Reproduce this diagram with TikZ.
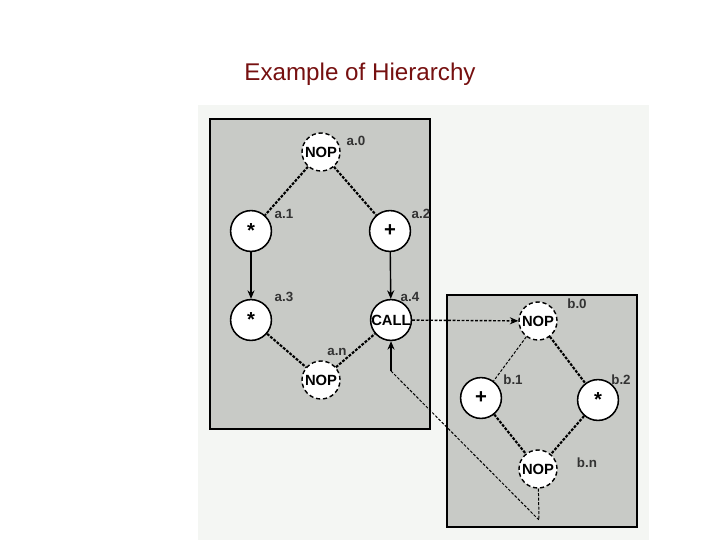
\documentclass[tikz,border=0pt]{standalone}
\usepackage{fontspec}
\setmainfont{Liberation Sans}
\usepackage{xcolor}
\usetikzlibrary{arrows.meta, positioning}

\definecolor{panelbg}{HTML}{F4F6F3}
\definecolor{boxgray}{HTML}{C8CAC6}
\definecolor{titlered}{HTML}{761010}

\begin{document}
\begin{tikzpicture}[
  x=0.025cm, y=-0.025cm,
  box/.style={draw=black, line width=1.4pt, fill=boxgray},
  op/.style={circle, draw=black, line width=1.1pt, fill=white,
             minimum size=1.02cm, inner sep=0pt,
             font=\fontsize{10.5}{12}\selectfont\bfseries},
  nop/.style={op, minimum size=0.95cm, densely dashed, line width=1pt},
  tag/.style={font=\fontsize{9.5}{11}\selectfont\bfseries, text=black!80, inner sep=1pt},
  flow/.style={-{Stealth[length=6pt, width=5pt]}, line width=1pt},
  link/.style={line width=1.5pt, dash pattern=on 2pt off 1pt},
  thinlink/.style={line width=0.7pt, dash pattern=on 2pt off 1.2pt},
]
\useasboundingbox (0,0) rectangle (720,540);

% title and backdrop
\node[text=titlered, font=\fontsize{17.2}{20}\selectfont] (title) at (360,74) {Example of Hierarchy};
\fill[panelbg] (198,105) rectangle (649,540);

% the two graphs
\draw[box] (210,119) rectangle (430,429);
\draw[box] (447,295) rectangle (637,527);

% graph a
\node[nop] (a0) at (321,152) {NOP};
\node[op]  (a1) at (251,231) {\Large *};
\node[op]  (a2) at (390,231) {\Large +};
\node[op]  (a3) at (251,320) {\Large *};
\node[op]  (a4) at (391,320) {CALL};
\node[nop] (an) at (321,380) {NOP};

\node[tag] (ta0) at (356,141) {a.0};
\node[tag] (ta1) at (284,214) {a.1};
\node[tag] (ta2) at (421,214) {a.2};
\node[tag] (ta3) at (284,297) {a.3};
\node[tag] (ta4) at (410,297) {a.4};
\node[tag] (tan) at (337,352) {a.n};

% graph b
\node[nop] (b0) at (538,321) {NOP};
\node[op]  (b1) at (481,398) {\Large +};
\node[op]  (b2) at (598,400) {\Large *};
\node[nop] (bn) at (538,469) {NOP};

\node[tag] (tb0) at (577,304) {b.0};
\node[tag] (tb1) at (513,380) {b.1};
\node[tag] (tb2) at (621,380) {b.2};
\node[tag] (tbn) at (587,463) {b.n};

\coordinate (back1) at (539,520);
\coordinate (back2) at (391,371);

\draw[link] (a0) -- (a1);
\draw[link] (a0) -- (a2);
\draw[flow] (a1) -- (a3);
\draw[flow] (a2) -- (a4);
\draw[link] (a3) -- (an);
\draw[link] (an) -- (a4);

\draw[thinlink, line width=1pt, -{Stealth[length=6pt, width=5pt]}] (a4) -- (b0);
\draw[thinlink] (b0) -- (b1);
\draw[link] (b0) -- (b2);
\draw[link] (b1) -- (bn);
\draw[link] (b2) -- (bn);

\draw[thinlink] (bn) -- (back1) -- (back2);
\draw[flow] (back2) -- (a4);

\end{tikzpicture}
\end{document}
